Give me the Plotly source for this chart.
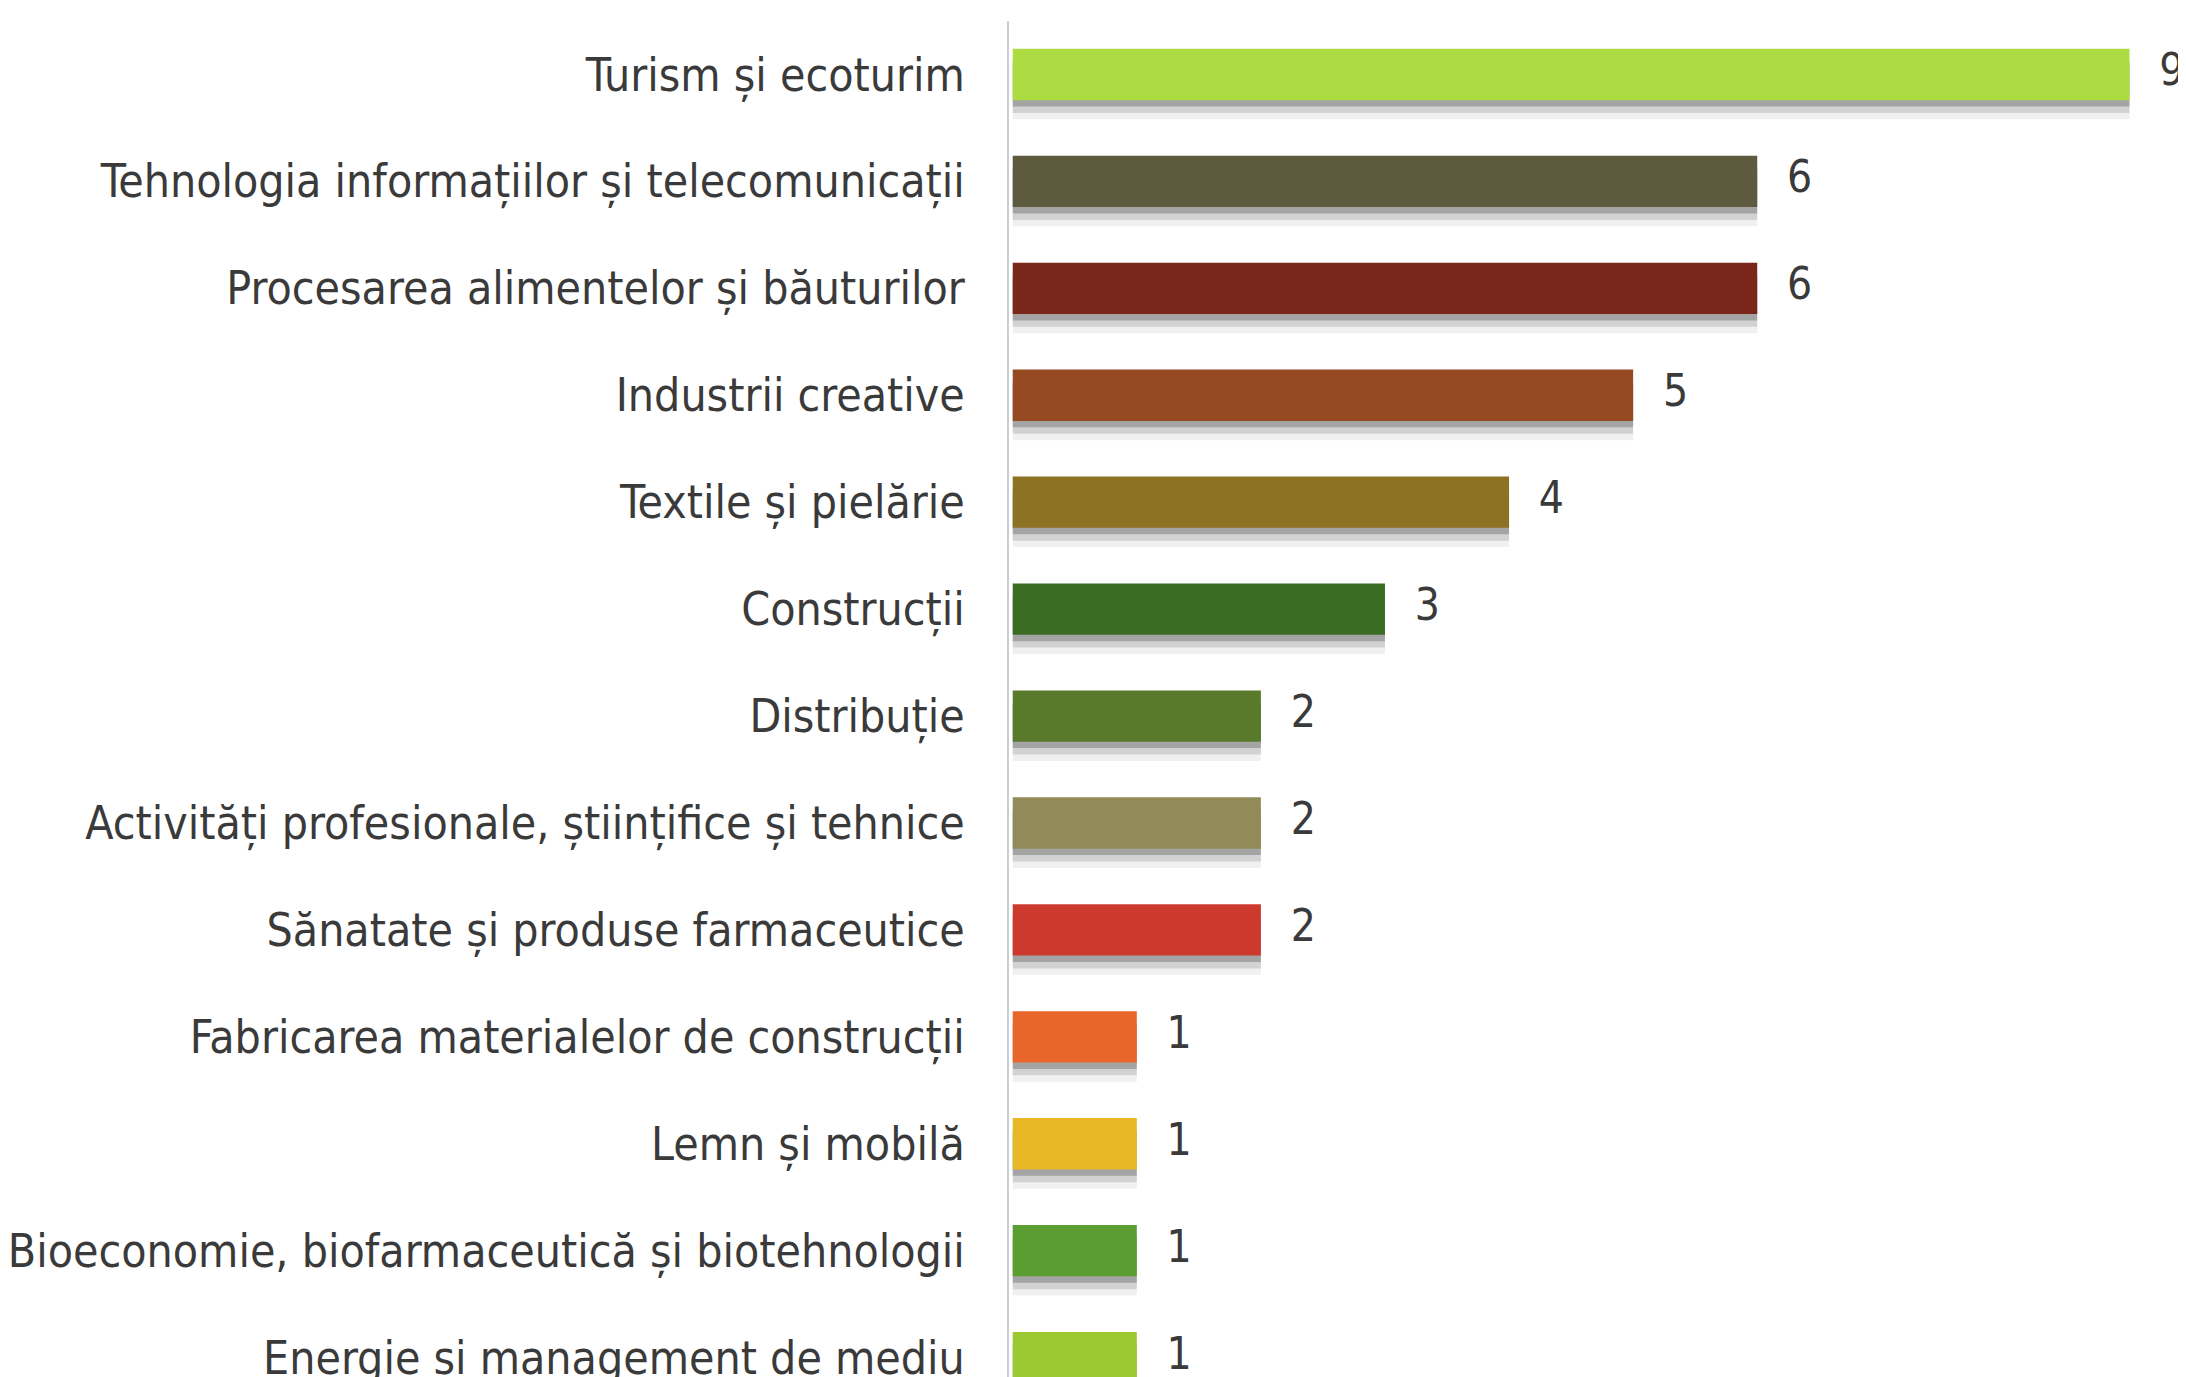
import plotly.graph_objects as go

# sectors and number of entries
categories = [
    "Turism și ecoturim",
    "Tehnologia informațiilor și telecomunicații",
    "Procesarea alimentelor și băuturilor",
    "Industrii creative",
    "Textile și pielărie",
    "Construcții",
    "Distribuție",
    "Activități profesionale, științifice și tehnice",
    "Sănatate și produse farmaceutice",
    "Fabricarea materialelor de construcții",
    "Lemn și mobilă",
    "Bioeconomie, biofarmaceutică și biotehnologii",
    "Energie și management de mediu",
]
values = [9, 6, 6, 5, 4, 3, 2, 2, 2, 1, 1, 1, 1]
colors = [
    "#acdb42", "#5d5a40", "#7a261b", "#954a22", "#8c7222", "#3b6c24", "#587a2a",
    "#928a58", "#cc3a2e", "#e8662a", "#e8b826", "#5a9e32", "#9cc832",
]

fig = go.Figure()

# soft drop shadow under each bar (layered)
for w, a in [(0.54, 0.06), (0.48, 0.12), (0.42, 0.22)]:
    fig.add_trace(go.Bar(
        y=categories, x=values, orientation="h",
        width=w, offset=-0.12,
        marker=dict(color=f"rgba(0,0,0,{a})", line=dict(width=0)),
        hoverinfo="skip", showlegend=False,
    ))

fig.add_trace(go.Bar(
    y=categories, x=values, orientation="h",
    width=0.48, offset=-0.24,
    marker=dict(color=colors, line=dict(width=0)),
    showlegend=False,
))

# value labels to the right of the bars
fig.add_trace(go.Scatter(
    y=categories, x=[v + 0.24 for v in values],
    mode="text", text=[str(v) for v in values],
    textposition="middle right",
    textfont=dict(size=44, color="#3a3a3a", family="DejaVu Sans Condensed"),
    cliponaxis=False, showlegend=False, hoverinfo="skip",
))

fig.update_layout(
    width=2186, height=1377,
    margin=dict(l=1000, r=0, t=13, b=0),
    plot_bgcolor="white", paper_bgcolor="white",
    barmode="overlay",
    font=dict(family="DejaVu Sans Condensed", size=46, color="#3a3a3a"),
)
fig.update_xaxes(range=[-0.03, 9.52], visible=False, showgrid=False)
fig.update_yaxes(
    type="category", categoryorder="array", categoryarray=categories,
    range=[12.2, -0.5],
    showgrid=False, showline=True, linecolor="#c9cdd6", linewidth=2,
    ticks="", ticklabelstandoff=33,
    tickfont=dict(size=46, color="#3a3a3a", family="DejaVu Sans Condensed"),
)

fig.write_html("out.html")
